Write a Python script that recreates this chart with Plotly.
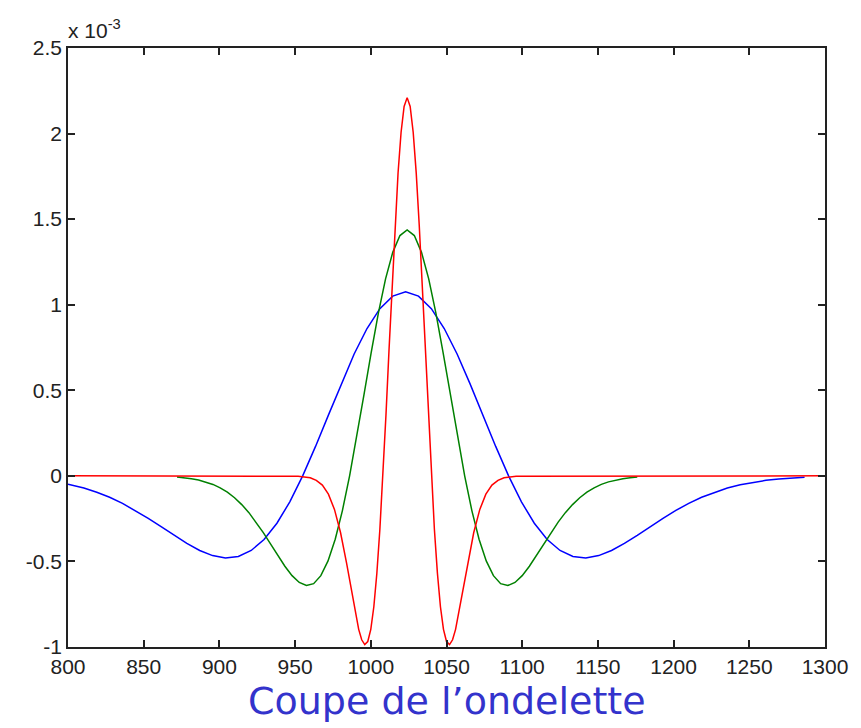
import plotly.graph_objects as go

# values in units of 1e-3
x_blue = [800, 810.5, 819, 827.5, 836, 844.5, 853, 861.5, 870, 878.5, 887, 895.5, 904, 912.5,
          921, 929.5, 938, 946.5, 955, 963.5, 972, 980.5, 989, 997.5, 1006, 1014.5, 1023,
          1031.5, 1040, 1048.5, 1057, 1065.5, 1074, 1082.5, 1091, 1099.5, 1108, 1116.5, 1125,
          1133.5, 1142, 1150.5, 1159, 1167.5, 1176, 1184.5, 1193, 1201.5, 1210, 1218.5, 1227,
          1235.5, 1244, 1252.5, 1261, 1269.5, 1278, 1286.5]
y_blue = [-0.049, -0.071, -0.096, -0.125, -0.161, -0.202, -0.248, -0.297, -0.348, -0.395, -0.436,
          -0.466, -0.480, -0.471, -0.436, -0.372, -0.277, -0.152, 0.0, 0.172, 0.355, 0.539, 0.712,
          0.861, 0.977, 1.050, 1.075,
          1.050, 0.977, 0.861, 0.712, 0.539, 0.355, 0.172, 0.0, -0.152, -0.277, -0.372, -0.436,
          -0.471, -0.480, -0.466, -0.436, -0.395, -0.348, -0.297, -0.248, -0.202, -0.161, -0.125,
          -0.096, -0.071, -0.052, -0.038, -0.026, -0.018, -0.012, -0.008]

x_green = [872, 876.75, 881.5, 886.25, 891, 895.75, 900.5, 905.25, 910, 914.75, 919.5, 924.25,
           929, 933.75, 938.5, 943.25, 948, 952.75, 957.5, 962.25, 967, 971.75, 976.5, 981.25,
           986, 990.75, 995.5, 1000.25, 1005, 1009.75, 1014.5, 1019.25, 1024,
           1028.75, 1033.5, 1038.25, 1043, 1047.75, 1052.5, 1057.25, 1062, 1066.75, 1071.5,
           1076.25, 1081, 1085.75, 1090.5, 1095.25, 1100, 1104.75, 1109.5, 1114.25, 1119,
           1123.75, 1128.5, 1133.25, 1138, 1142.75, 1147.5, 1152.25, 1157, 1161.75, 1166.5,
           1171.25, 1176]
y_green = [-0.007, -0.011, -0.017, -0.024, -0.035, -0.050, -0.070, -0.095, -0.128, -0.168, -0.215,
           -0.270, -0.332, -0.397, -0.465, -0.528, -0.583, -0.623, -0.641, -0.630, -0.583, -0.497,
           -0.370, -0.203, 0.0, 0.230, 0.474, 0.720, 0.951, 1.151, 1.306, 1.404, 1.437,
           1.404, 1.306, 1.151, 0.951, 0.720, 0.474, 0.230, 0.0, -0.203, -0.370, -0.497, -0.583,
           -0.630, -0.641, -0.623, -0.583, -0.528, -0.465, -0.397, -0.332, -0.270, -0.215, -0.168,
           -0.128, -0.095, -0.070, -0.050, -0.035, -0.024, -0.017, -0.011, -0.007]

x_red = [800, 952, 960, 964, 968, 972, 976, 980, 984, 988,
         992, 994, 996, 998, 1000, 1002, 1004, 1006, 1008, 1010, 1012, 1014, 1016, 1018, 1020,
         1022, 1024, 1026, 1028, 1030, 1032, 1034, 1036, 1038, 1040, 1042, 1044, 1046, 1048,
         1050, 1052, 1054, 1056,
         1060, 1064, 1068, 1072, 1076, 1080, 1084, 1088, 1096, 1300]
y_red = [0, -0.002, -0.011, -0.026, -0.054, -0.107, -0.196, -0.331, -0.510, -0.714,
         -0.897, -0.958, -0.986, -0.968, -0.897, -0.765, -0.569, -0.312, 0.0, 0.353, 0.730,
         1.108, 1.463, 1.770, 2.008, 2.158, 2.210, 2.158, 2.008, 1.770, 1.463, 1.108, 0.730,
         0.353, 0.0, -0.312, -0.569, -0.765, -0.897, -0.968, -0.986, -0.958, -0.897,
         -0.714, -0.510, -0.331, -0.196, -0.107, -0.054, -0.026, -0.011, -0.002, 0]

x_ticks = [800, 850, 900, 950, 1000, 1050, 1100, 1150, 1200, 1250, 1300]
y_ticks = [-1, -0.5, 0, 0.5, 1, 1.5, 2, 2.5]
y_tick_labels = ["-1", "-0.5", "0", "0.5", "1", "1.5", "2", "2.5"]
title_text = "Coupe de l\u2019ondelette"
exponent_text = "x 10<sup>-3</sup>"

fig = go.Figure()
for xs, ys, col in [(x_blue, y_blue, "#0000FF"), (x_green, y_green, "#008000"), (x_red, y_red, "#FF0000")]:
    fig.add_trace(go.Scatter(x=xs, y=ys, mode="lines", line=dict(color=col, width=1.5),
                             showlegend=False, hoverinfo="skip"))

axis_common = dict(showline=True, linecolor="#222222", linewidth=1.5, mirror="ticks",
                   ticks="inside", ticklen=7, tickwidth=1.5, tickcolor="#222222",
                   showgrid=False, zeroline=False,
                   tickfont=dict(family="Liberation Sans, Arial, sans-serif", size=21, color="#222222"))

fig.update_xaxes(range=[800, 1300], tickvals=x_ticks, ticktext=[str(v) for v in x_ticks], **axis_common)
fig.update_yaxes(range=[-1, 2.5], tickvals=y_ticks, ticktext=y_tick_labels, **axis_common)

fig.add_annotation(text=exponent_text, xref="paper", yref="paper", x=0, y=1,
                   xanchor="left", yanchor="bottom", showarrow=False, yshift=4, xshift=-2,
                   font=dict(family="Liberation Sans, Arial, sans-serif", size=21, color="#222222"))
fig.add_annotation(text=title_text, xref="paper", yref="paper", x=0.5, y=-0.050,
                   xanchor="center", yanchor="top", showarrow=False,
                   font=dict(family="DejaVu Sans, sans-serif", size=38, color="#3333CC"))

fig.update_layout(width=861, height=728, margin=dict(l=60, r=43.5, t=40, b=88.5),
                  plot_bgcolor="white", paper_bgcolor="white")

fig.write_html("out.html")
